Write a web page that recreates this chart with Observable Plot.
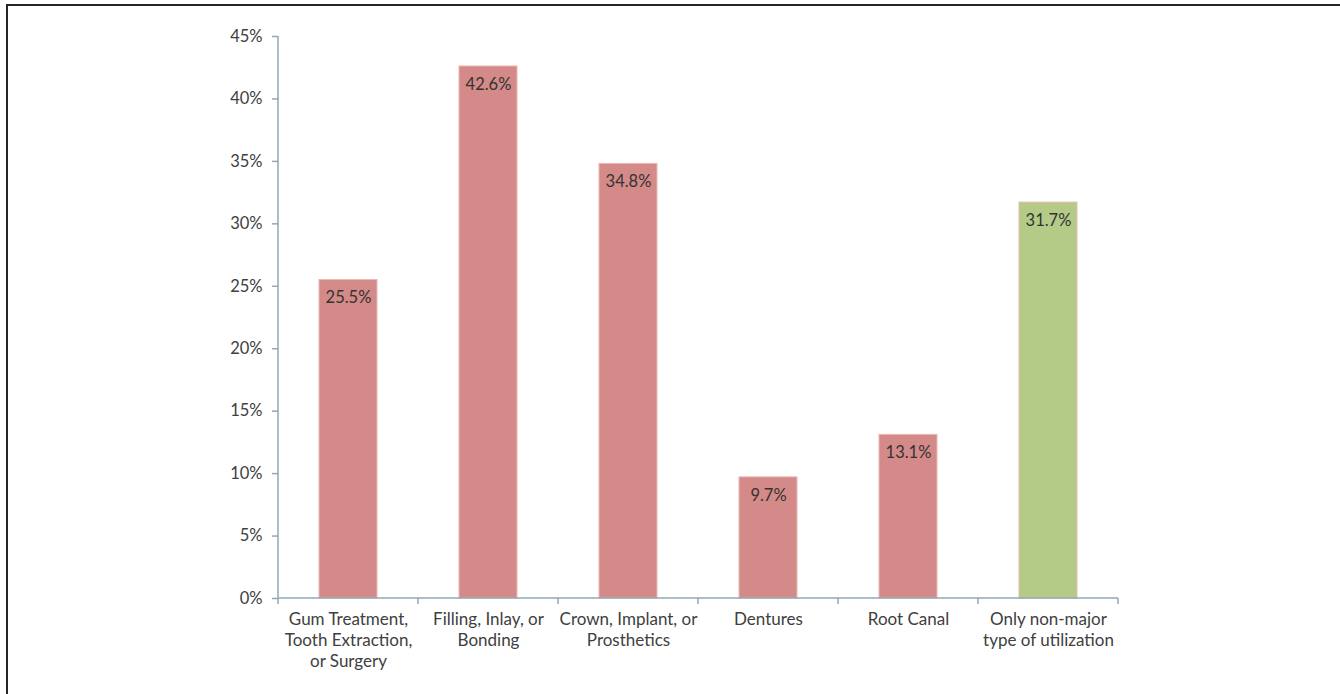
<!DOCTYPE html>
<html>
<head>
<meta charset="utf-8">
<script src="https://cdn.jsdelivr.net/npm/d3@7"></script>
<script src="https://cdn.jsdelivr.net/npm/@observablehq/plot@0.6"></script>
<style>
  html, body { margin: 0; padding: 0; background: #fff; }
  #wrap { position: relative; width: 1340px; height: 694px; overflow: hidden; }
  #frame { position: absolute; left: 6px; top: 4px; right: -10px; bottom: -10px;
           border-left: 2px solid #262626; border-top: 2px solid #262626; pointer-events: none; }
  #chart svg { display: block; }
</style>
</head>
<body>
<div id="wrap"><div id="chart"></div><div id="frame"></div></div>
<script>
const categories = [
  "Gum Treatment,\nTooth Extraction,\nor Surgery",
  "Filling, Inlay, or\nBonding",
  "Crown, Implant, or\nProsthetics",
  "Dentures",
  "Root Canal",
  "Only non-major\ntype of utilization"
];
const values = [25.5, 42.6, 34.8, 9.7, 13.1, 31.7];
const groups = ["major", "major", "major", "major", "major", "nonmajor"];
const yTicks = [0, 5, 10, 15, 20, 25, 30, 35, 40, 45];

const data = categories.map((c, i) => ({category: c, value: values[i], group: groups[i]}));

const axisColor = "#8eaab6";
const font = "Lato, 'Open Sans', sans-serif";

// custom axis lines (y axis line, baseline and x boundary ticks)
function axisLines(index, scales, values, dimensions) {
  const {width, height, marginLeft, marginRight, marginBottom} = dimensions;
  const left = marginLeft, right = width - marginRight, bottom = height - marginBottom;
  const bw = (right - left) / categories.length;
  const g = d3.create("svg:g").attr("stroke", axisColor).attr("stroke-width", 1.5).attr("fill", "none");
  g.append("line").attr("x1", left).attr("x2", left).attr("y1", scales.y(45)).attr("y2", bottom);
  g.append("line").attr("x1", left).attr("x2", right).attr("y1", bottom).attr("y2", bottom);
  for (let i = 0; i <= categories.length; i++) {
    const x = left + i * bw;
    g.append("line").attr("x1", x).attr("x2", x).attr("y1", bottom).attr("y2", bottom + 6);
  }
  return g.node();
}

const chart = Plot.plot({
  width: 1340,
  height: 694,
  marginLeft: 278,
  marginRight: 222,
  marginTop: 36,
  marginBottom: 96,
  style: {fontFamily: font, fontSize: "16px", color: "#404040", background: "transparent"},
  x: {type: "band", domain: categories, padding: 0, axis: null},
  y: {domain: [0, 45], axis: null},
  color: {domain: ["major", "nonmajor"], range: ["#d38a88", "#b4cb88"]},
  marks: [
    Plot.barY(data, {x: "category", y: "value", fill: "group", stroke: "#ecb8b3", strokeWidth: 1, insetLeft: 41, insetRight: 41}),
    axisLines,
    Plot.axisY(yTicks, {tickSize: 6, tickPadding: 10, stroke: axisColor, strokeWidth: 1.5, fill: "#404040", fontSize: 16.5, tickFormat: d => d + "%", label: null}),
    Plot.text(data, {x: "category", y: "value", text: d => d.value.toFixed(1) + "%", dy: 18, fill: "#333", fontSize: 16.5}),
    Plot.text(categories, {x: d => d, frameAnchor: "bottom", text: d => d, lineAnchor: "top", dy: 11, lineHeight: 1.25, fill: "#404040", fontSize: 17})
  ]
});
document.getElementById("chart").appendChild(chart);
</script>
</body>
</html>
